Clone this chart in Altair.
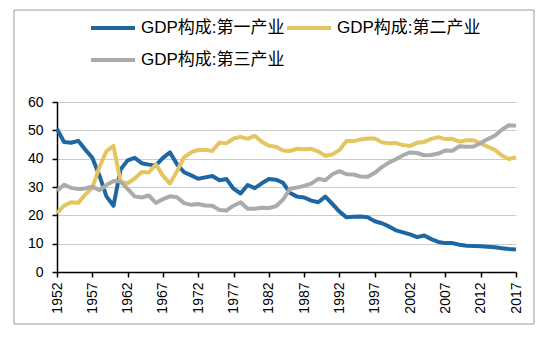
import altair as alt
import pandas as pd

years = list(range(1952, 2018))

primary = [
    50.5, 45.9, 45.6, 46.3, 43.2, 40.3, 34.1, 26.7, 23.4, 36.2,
    39.4, 40.3, 38.4, 37.9, 37.6, 40.3, 42.2, 38.0, 35.2, 34.1,
    32.9, 33.4, 33.9, 32.4, 32.8, 29.4, 27.7, 30.7, 29.6, 31.3,
    32.8, 32.6, 31.5, 27.9, 26.6, 26.3, 25.2, 24.6, 26.6, 24.0,
    21.3, 19.3, 19.5, 19.6, 19.3, 17.9, 17.2, 16.1, 14.7, 14.0,
    13.3, 12.3, 12.9, 11.6, 10.6, 10.2, 10.2, 9.6, 9.3, 9.2,
    9.1, 8.9, 8.7, 8.4, 8.1, 7.9,
]
secondary = [
    20.8, 23.4, 24.6, 24.4, 27.3, 29.7, 37.0, 42.6, 44.5, 31.9,
    31.3, 33.0, 35.3, 35.1, 38.0, 34.0, 31.2, 35.6, 40.5, 42.2,
    43.1, 43.1, 42.7, 45.7, 45.4, 47.1, 47.7, 47.0, 48.1, 46.0,
    44.6, 44.2, 42.9, 42.7, 43.5, 43.3, 43.5, 42.5, 41.0, 41.5,
    43.1, 46.2, 46.2, 46.8, 47.1, 47.1, 45.8, 45.4, 45.5, 44.8,
    44.5, 45.6, 45.9, 47.0, 47.6, 46.9, 47.0, 46.0, 46.5, 46.5,
    45.4, 44.2, 43.1, 41.1, 39.9, 40.5,
]
tertiary = [
    28.7, 30.8, 29.7, 29.3, 29.5, 30.1, 28.9, 30.7, 32.1, 31.9,
    29.3, 26.7, 26.3, 27.0, 24.4, 25.7, 26.7, 26.4, 24.3, 23.7,
    24.0, 23.5, 23.4, 21.9, 21.7, 23.4, 24.6, 22.3, 22.3, 22.7,
    22.6, 23.2, 25.5, 29.4, 29.8, 30.4, 31.2, 32.9, 32.4, 34.5,
    35.6, 34.5, 34.4, 33.7, 33.6, 35.0, 37.0, 38.6, 39.8, 41.2,
    42.2, 42.0, 41.2, 41.3, 41.8, 42.9, 42.8, 44.4, 44.2, 44.3,
    45.5, 46.9, 48.1, 50.2, 51.8, 51.6,
]

series_names = ["GDP构成:第一产业", "GDP构成:第二产业", "GDP构成:第三产业"]
colors = ["#1f67a2", "#e5c562", "#ababab"]
x_ticks = list(range(1952, 2018, 5))
y_ticks = [0, 10, 20, 30, 40, 50, 60]

rows = []
for order, (name, vals) in enumerate(zip(series_names, [primary, secondary, tertiary])):
    for yr, v in zip(years, vals):
        rows.append({"year": yr, "series": name, "value": v, "order": order})
df = pd.DataFrame(rows)

FONT = "Liberation Sans, Arial, Noto Sans CJK SC, sans-serif"

lines = alt.Chart(df).mark_line(strokeWidth=4, strokeJoin="round").encode(
    x=alt.X(
        "year:Q",
        scale=alt.Scale(domain=[1952, 2017], nice=False, zero=False),
        axis=alt.Axis(
            values=x_ticks, format="d", labelAngle=270, title=None, grid=False,
            labelFontSize=14, labelFont=FONT, labelColor="#000000",
            domainColor="#000000", domainWidth=1.5, tickColor="#000000",
            tickWidth=1.5, tickSize=5, labelPadding=5,
        ),
    ),
    y=alt.Y(
        "value:Q",
        scale=alt.Scale(domain=[0, 60], nice=False),
        axis=alt.Axis(
            values=y_ticks, title=None, grid=True, gridColor="#cccccc",
            gridWidth=1, labelFontSize=14, labelFont=FONT, labelColor="#000000",
            domainColor="#000000", domainWidth=1.5, tickColor="#000000",
            tickWidth=1.5, tickSize=5, labelPadding=9,
        ),
    ),
    color=alt.Color(
        "series:N",
        scale=alt.Scale(domain=series_names, range=colors),
        legend=alt.Legend(
            orient="none", legendX=32, legendY=-98, columns=2, title=None,
            direction="horizontal",
            symbolType="stroke", symbolStrokeWidth=4, symbolSize=1936,
            labelFontSize=17, labelFont=FONT, labelColor="#000000",
            labelOffset=4, columnPadding=-20, rowPadding=-12, labelLimit=300,
        ),
    ),
    order=alt.Order("order:Q"),
    detail="series:N",
)

frame = alt.Chart(pd.DataFrame({"a": [0]})).mark_rect(
    fillOpacity=0, stroke="#9a9a9a", strokeWidth=1
).encode(
    x=alt.value(-43), x2=alt.value(477), y=alt.value(-92), y2=alt.value(222)
)

chart = alt.layer(frame, lines).properties(
    width=459, height=170,
    autosize=alt.AutoSizeParams(type="none"),
    padding={"left": 57, "top": 102, "right": 31, "bottom": 80},
    background="#ffffff",
).configure_view(stroke=None)

chart.save("out.html", embed_options={"renderer": "svg", "actions": False})
